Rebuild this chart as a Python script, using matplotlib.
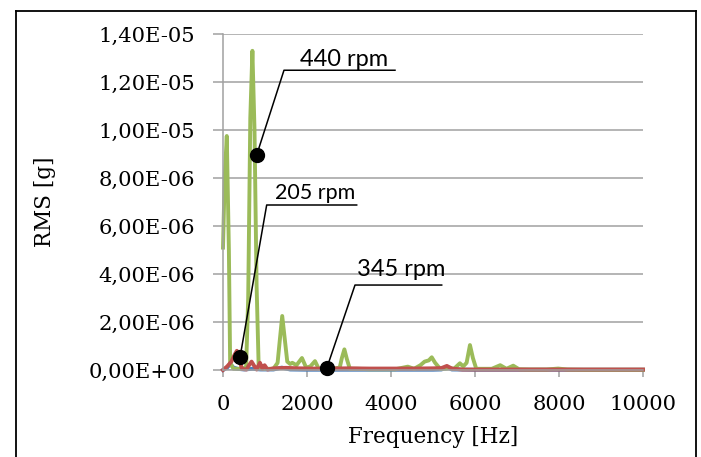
import matplotlib
matplotlib.use("Agg")
import matplotlib.pyplot as plt
import matplotlib.lines as lines
from matplotlib.ticker import FuncFormatter, MultipleLocator

# 440 rpm (green)
freq_440 = [0, 40, 90, 140, 170, 250, 400, 550, 600, 650, 700, 750, 800, 850,
            1000, 1200, 1300, 1350, 1410, 1470, 1530, 1600, 1650, 1750, 1880,
            1980, 2080, 2190, 2280, 2400, 2600, 2780, 2830, 2890, 2950, 3020,
            3200, 3500, 3800, 4100, 4400, 4550, 4700, 4800, 4900, 4970, 5050,
            5170, 5300, 5400, 5500, 5640, 5720, 5800, 5880, 5950, 6030, 6200,
            6400, 6600, 6750, 6910, 7050, 7300, 7700, 7980, 8200, 8600, 9000,
            9500, 10000]
rms_440 = [5.1, 8.0, 9.75, 5.0, 0.3, 0.05, 0.05, 0.1, 3.0, 10.5, 13.3, 10.0, 3.5, 0.1,
           0.05, 0.05, 0.3, 1.2, 2.25, 1.3, 0.35, 0.25, 0.3, 0.2, 0.5,
           0.1, 0.15, 0.37, 0.05, 0.03, 0.05, 0.1, 0.5, 0.86, 0.45, 0.05,
           0.05, 0.03, 0.03, 0.03, 0.14, 0.05, 0.2, 0.35, 0.4, 0.53, 0.3,
           0.05, 0.05, 0.08, 0.05, 0.28, 0.15, 0.3, 1.04, 0.5, 0.05, 0.05,
           0.05, 0.2, 0.05, 0.18, 0.03, 0.02, 0.02, 0.06, 0.02, 0.01, 0.01,
           0.01, 0.01]

# 205 rpm (red)
freq_205 = [0, 100, 200, 280, 330, 380, 450, 560, 620, 680, 750, 800, 880, 940,
            990, 1060, 1200, 1500, 1800, 2100, 2500, 3000, 3500, 4000, 4500,
            5000, 5200, 5330, 5450, 5700, 6000, 7000, 8000, 9000, 10000]
rms_205 = [0.0, 0.15, 0.35, 0.65, 0.8, 0.5, 0.05, 0.02, 0.2, 0.35, 0.15, 0.02, 0.3, 0.05,
           0.2, 0.02, 0.07, 0.09, 0.07, 0.06, 0.06, 0.07, 0.06, 0.06, 0.06,
           0.07, 0.08, 0.17, 0.06, 0.02, 0.02, 0.02, 0.02, 0.02, 0.02]

# 345 rpm (blue)
freq_345 = [0, 100, 170, 250, 350, 500, 700, 900, 1200, 1400, 1600, 2000, 3000,
            4000, 5000, 5200, 5330, 5450, 6000, 7000, 8000, 9000, 10000]
rms_345 = [0.0, 0.1, 0.25, 0.1, 0.05, 0.02, 0.05, 0.02, 0.02, 0.1, 0.02, 0.01, 0.01,
           0.01, 0.01, 0.02, 0.12, 0.02, 0.01, 0.01, 0.01, 0.01, 0.01]

W, H = 701, 457
fig = plt.figure(figsize=(W / 100, H / 100), dpi=100)
ax = fig.add_axes([223 / W, 1 - 370 / H, 420 / W, 336 / H])

lw = 2.8
ax.plot(freq_345, [v * 1e-6 for v in rms_345], color="#4F81BD", lw=lw, clip_on=False, solid_joinstyle="round")
ax.plot(freq_440, [v * 1e-6 for v in rms_440], color="#9BBB59", lw=lw, clip_on=False, solid_joinstyle="round")
ax.plot(freq_205, [v * 1e-6 for v in rms_205], color="#C0504D", lw=lw, clip_on=False, solid_joinstyle="round")

ax.set_xlim(0, 10000)
ax.set_ylim(0, 1.4e-5)
ax.xaxis.set_major_locator(MultipleLocator(2000))
ax.yaxis.set_major_locator(MultipleLocator(2e-6))
ax.yaxis.set_major_formatter(FuncFormatter(lambda v, p: f"{v:.2E}".replace(".", ",")))
ax.xaxis.set_major_formatter(FuncFormatter(lambda v, p: f"{v:.0f}"))

ax.grid(axis="y", color="#A0A0A0", lw=1.1)
ax.set_axisbelow(True)
for s in ["top", "right"]:
    ax.spines[s].set_visible(False)
for s in ["left", "bottom"]:
    ax.spines[s].set_color("#A0A0A0")
    ax.spines[s].set_linewidth(1.1)
ax.tick_params(axis="y", length=7, width=1.1, color="#A0A0A0", pad=13)
ax.tick_params(axis="x", length=5, width=1.1, color="#A0A0A0", pad=13)

serif = "DejaVu Serif"
for t in ax.get_xticklabels() + ax.get_yticklabels():
    t.set_fontfamily(serif)
    t.set_fontsize(15.2)
    t.set_color("black")
ax.set_xlabel("Frequency [Hz]", fontfamily=serif, fontsize=15.5, labelpad=9)
ax.set_ylabel("RMS [g]", fontfamily=serif, fontsize=15.5, labelpad=23)

# annotation callouts: dot, leader, underline, label
callouts = [
    ("440 rpm", (802, 8.96e-6), (1452, 1.249e-5), 4095, (1833, 1.267e-5), 17),
    ("205 rpm", (405, 5.3e-7), (1040, 6.875e-6), 3183, (1238, 7.11e-6), 15.5),
    ("345 rpm", (2469, 7e-8), (3143, 3.54e-6), 5207, (3183, 3.92e-6), 17),
]
for label, dot, corner, end_x, txt, fs in callouts:
    ax.plot([dot[0], corner[0], end_x], [dot[1], corner[1], corner[1]],
            color="black", lw=1.1, clip_on=False, zorder=5)
    ax.plot([dot[0]], [dot[1]], "o", color="black", ms=10, clip_on=False, zorder=6)
    ax.text(txt[0], txt[1], label, fontfamily="Lato", fontsize=fs,
            va="baseline", ha="left", zorder=6)

# outer chart border
bk = dict(color="black", lw=1.3, transform=fig.transFigure)
fig.add_artist(lines.Line2D([16 / W, 16 / W], [0, 1 - 11 / H], **bk))
fig.add_artist(lines.Line2D([16 / W, 696 / W], [1 - 11 / H, 1 - 11 / H], **bk))
fig.add_artist(lines.Line2D([696 / W, 696 / W], [0, 1 - 11 / H], **bk))

fig.savefig("out.png", dpi=100)
